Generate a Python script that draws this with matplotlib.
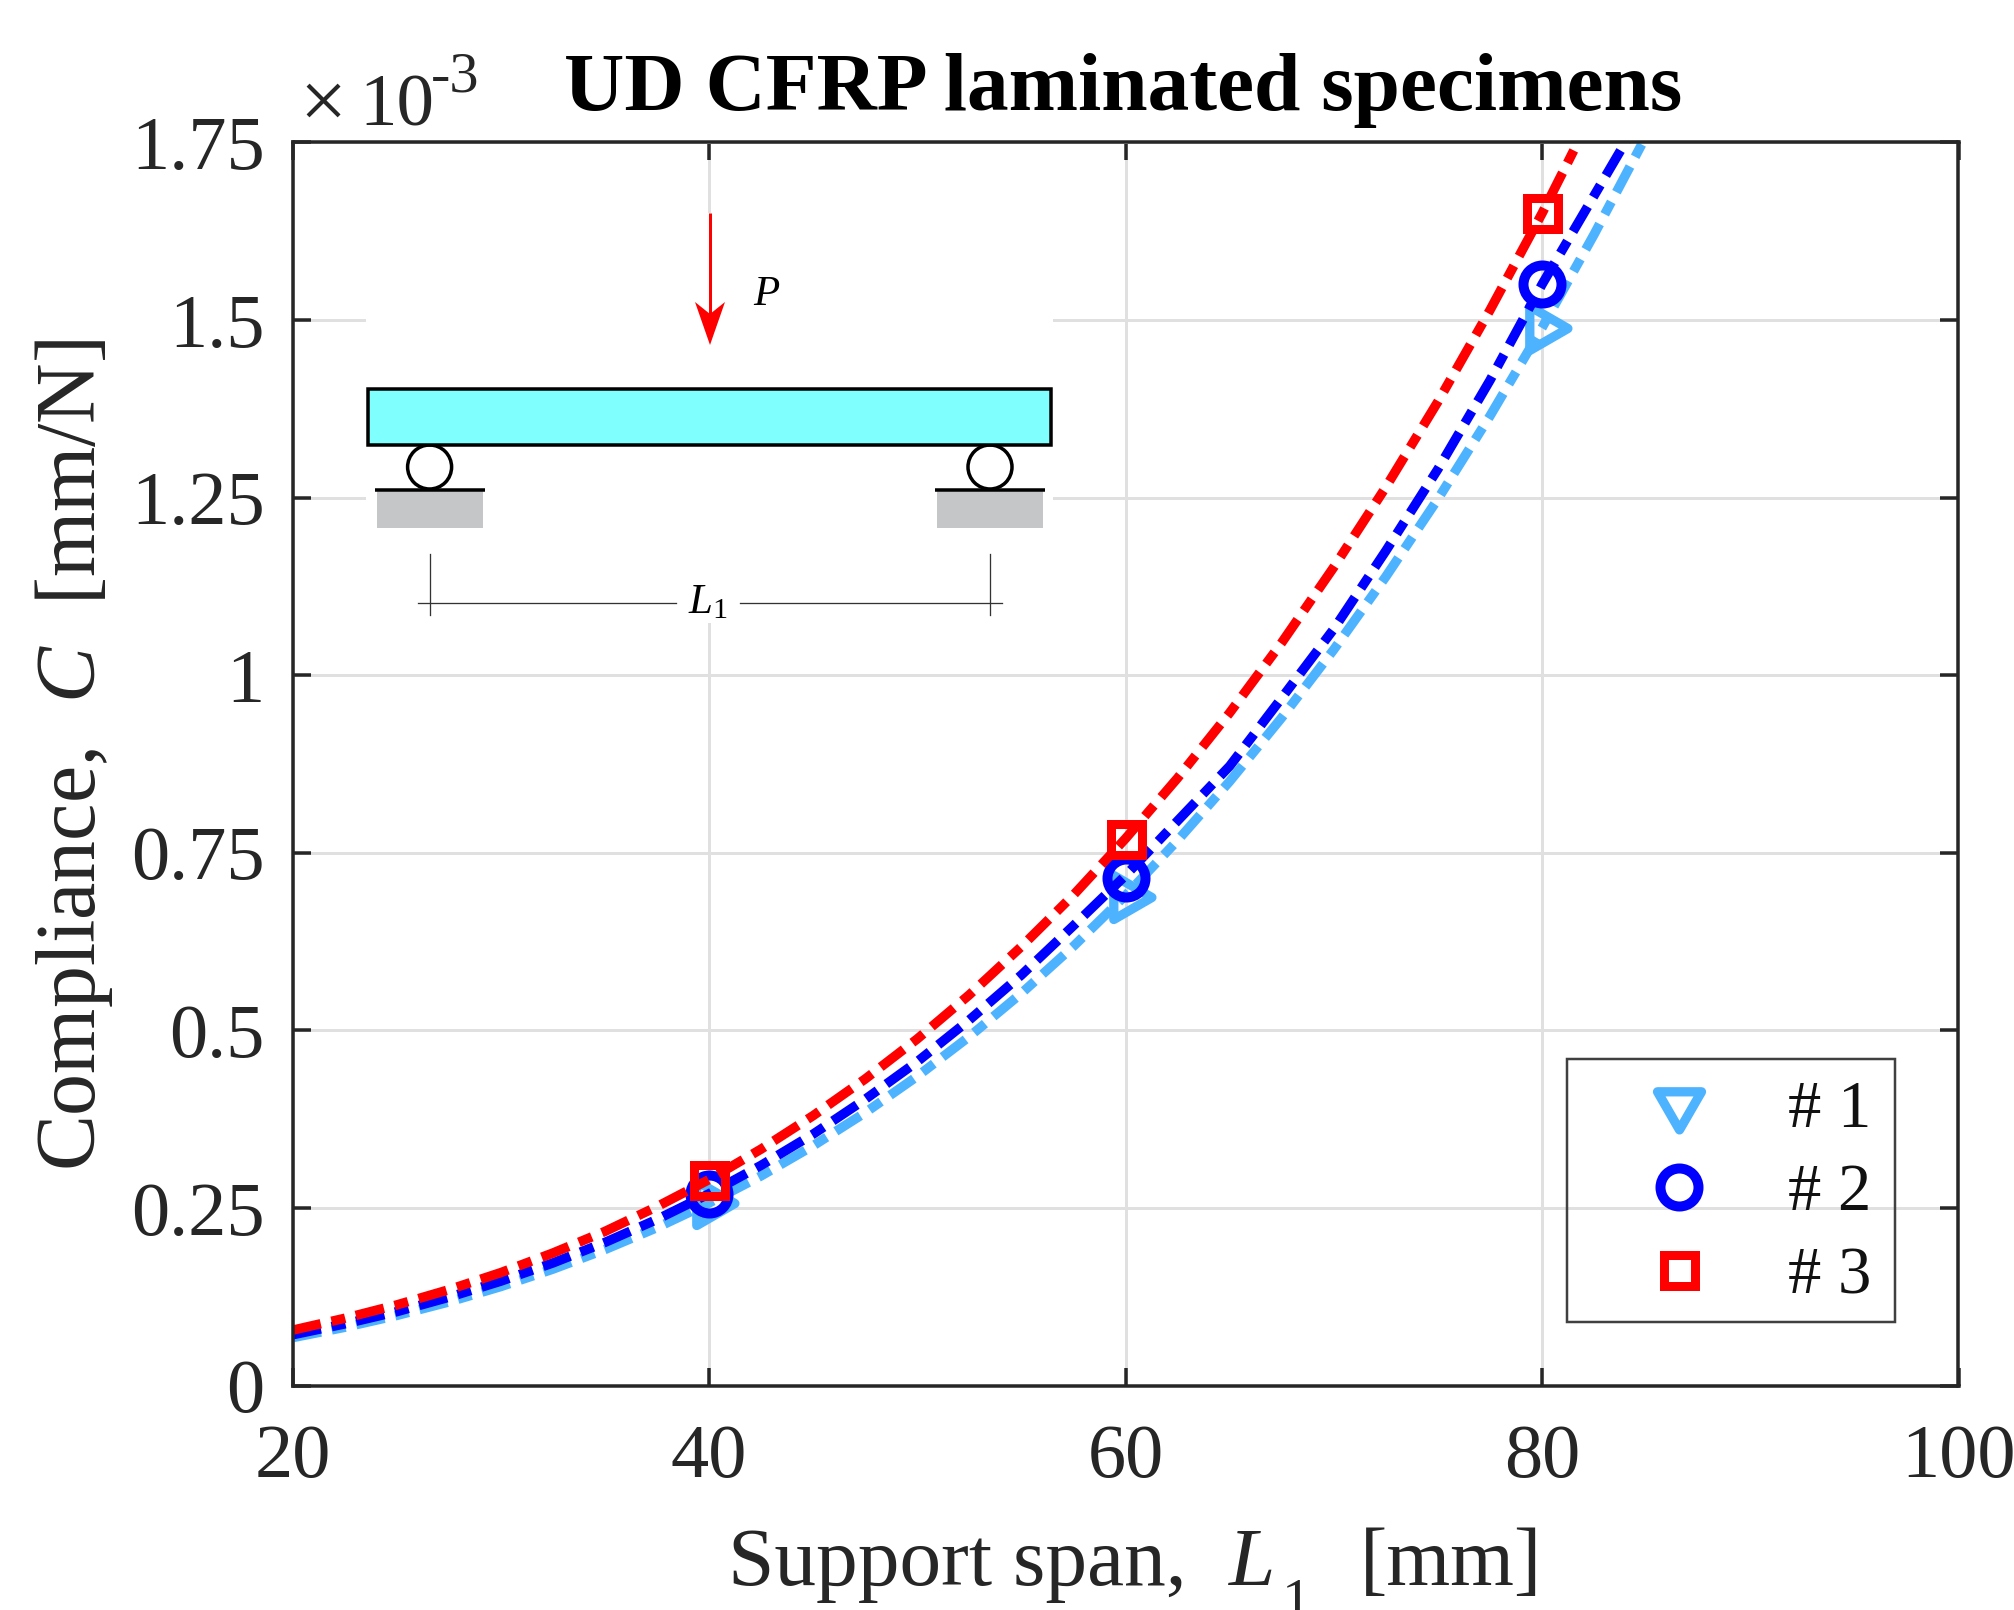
import matplotlib

matplotlib.use("Agg")
import matplotlib.pyplot as plt
import numpy as np
from matplotlib.lines import Line2D
from matplotlib.markers import MarkerStyle
from matplotlib.patches import Circle, Rectangle
from matplotlib.path import Path

plt.rcParams["font.family"] = ["Liberation Serif", "DejaVu Serif"]
plt.rcParams["mathtext.fontset"] = "custom"
plt.rcParams["mathtext.rm"] = "Liberation Serif"
plt.rcParams["mathtext.it"] = "Liberation Serif:italic"
plt.rcParams["lines.scale_dashes"] = False

span_curve = [20, 22.5, 25, 27.5, 30, 32.5, 35, 37.5, 40, 42.5, 45, 47.5, 50, 52.5, 55, 57.5,
              60, 62.5, 65, 67.5, 70, 72.5, 75, 77.5, 80, 82.5, 85]
curve_1 = [0.0675, 0.082, 0.0987, 0.1177, 0.1394, 0.1639, 0.1915, 0.2224, 0.257, 0.2952, 0.3376, 0.3842, 0.4354,
           0.4913, 0.5522, 0.6184, 0.690, 0.7674, 0.8505, 0.9402, 1.036, 1.1387, 1.248, 1.3648, 1.489, 1.6204, 1.759]
curve_2 = [0.0715, 0.0868, 0.104, 0.1243, 0.147, 0.1726, 0.2015, 0.2339, 0.27, 0.31, 0.354, 0.403, 0.456,
           0.5147, 0.578, 0.6474, 0.718, 0.795, 0.872, 0.968, 1.065, 1.175, 1.29, 1.415, 1.55, 1.675, 1.80]
curve_3 = [0.078, 0.0947, 0.1135, 0.1349, 0.159, 0.1866, 0.217, 0.2519, 0.29, 0.3329, 0.38, 0.4316, 0.488,
           0.5501, 0.618, 0.6906, 0.77, 0.8552, 0.947, 1.0458, 1.152, 1.2647, 1.385, 1.5138, 1.65, 1.7954, 1.949]

span_test = [40, 60, 80]
test_1 = [0.257, 0.688, 1.489]
test_2 = [0.27, 0.715, 1.55]
test_3 = [0.29, 0.77, 1.65]

x_ticks = [20, 40, 60, 80, 100]
y_ticks = [0, 0.25, 0.5, 0.75, 1, 1.25, 1.5, 1.75]
y_tick_labels = ["0", "0.25", "0.5", "0.75", "1", "1.25", "1.5", "1.75"]
labels = ["# 1", "# 2", "# 3"]

W, H = 2015, 1610
PX = 0.72  # points per pixel at dpi 100
DARK = "#262626"
LIGHT_BLUE = "#4DB3FF"
BLUE = "#0000FF"
RED = "#FF0000"
DASH = (0, (29 * PX, 11 * PX, 14 * PX, 11 * PX))


def triangle(angle):
    # triangle centred on its centroid, apex pointing down at angle 0
    verts = np.array([[0, -2], [np.sqrt(3), 1], [-np.sqrt(3), 1], [0, -2]], dtype=float)
    rad = np.deg2rad(angle)
    rot = np.array([[np.cos(rad), -np.sin(rad)], [np.sin(rad), np.cos(rad)]])
    verts = verts @ rot.T
    codes = [Path.MOVETO, Path.LINETO, Path.LINETO, Path.CLOSEPOLY]
    return MarkerStyle(Path(verts, codes), joinstyle="miter")


marker_kw = {
    "tri_plot": dict(marker=triangle(90), ms=50.8 * PX, mew=9.3 * PX),
    "tri_leg": dict(marker=triangle(0), ms=50.8 * PX, mew=9.3 * PX),
    "circle": dict(marker="o", ms=38 * PX, mew=10 * PX),
    "square": dict(marker="s", ms=31 * PX, mew=9 * PX),
}

fig = plt.figure(figsize=(W / 100, H / 100), dpi=100, facecolor="white")
left, right, top, bottom = 292.5, 1958.5, 142.4, 1385.6
ax = fig.add_axes([left / W, 1 - bottom / H, (right - left) / W, (bottom - top) / H])

series = [
    (curve_1, test_1, LIGHT_BLUE, "tri_plot"),
    (curve_2, test_2, BLUE, "circle"),
    (curve_3, test_3, RED, "square"),
]
for curve, test, color, key in series:
    ax.plot(span_curve, curve, color=color, lw=9.5 * PX, ls=DASH, dash_capstyle="butt", dash_joinstyle="round")
    ax.plot(span_test, test, ls="none", color=color, mfc="none", mec=color, **marker_kw[key])

ax.set_xlim(20, 100)
ax.set_ylim(0, 1.75)
ax.set_xticks(x_ticks)
ax.set_yticks(y_ticks)
ax.set_yticklabels(y_tick_labels)
ax.grid(True, color="#e0e0e0", lw=3 * PX)
ax.set_axisbelow(True)
ax.tick_params(direction="in", length=18 * PX, width=3.5 * PX, color=DARK, top=True, right=True,
               labelsize=55, labelcolor=DARK)
ax.tick_params(axis="x", pad=28)
ax.tick_params(axis="y", pad=20)
for spine in ax.spines.values():
    spine.set_linewidth(3.5 * PX)
    spine.set_color(DARK)

handles = [
    Line2D([], [], ls="none", color=LIGHT_BLUE, mfc="none", mec=LIGHT_BLUE, **marker_kw["tri_leg"]),
    Line2D([], [], ls="none", color=BLUE, mfc="none", mec=BLUE, **marker_kw["circle"]),
    Line2D([], [], ls="none", color=RED, mfc="none", mec=RED, **marker_kw["square"]),
]
leg = ax.legend(handles, labels, loc="lower right", borderaxespad=0, fontsize=48, frameon=False,
                bbox_to_anchor=((1895 - left) / (right - left), (bottom - 1331) / (bottom - top)),
                borderpad=0.36, handlelength=2.7, handletextpad=0.28, labelspacing=0.33, labelcolor="#111111")

# schematic and legend box, drawn in picture pixels
ov = fig.add_axes([0, 0, 1, 1], facecolor="none")
ov.set_xlim(0, W)
ov.set_ylim(H, 0)
ov.axis("off")
ov.add_patch(Rectangle((1567, 1059), 328, 263, fc="none", ec="#404040", lw=2.5 * PX))
ov.add_patch(Rectangle((366, 213), 687, 410, fc="white", ec="none"))
ov.plot([710, 710], [213, 325], color=RED, lw=3 * PX, solid_capstyle="butt")
ov.fill([710, 695, 710, 725], [345, 302, 314, 302], color=RED, lw=0)
for x_center in (429.6, 990):
    ov.add_patch(Rectangle((x_center - 53, 490), 106, 37.7, fc="#c5c6c8", ec="none"))
    ov.plot([x_center - 54.5, x_center + 55], [490, 490], color="black", lw=3.5 * PX, solid_capstyle="butt")
    ov.add_patch(Circle((x_center, 467), 22, fc="white", ec="black", lw=3.5 * PX))
    ov.plot([x_center, x_center], [554, 615], color="#333333", lw=1.3 * PX)
ov.add_patch(Rectangle((368, 389), 683, 56, fc="#80FFFF", ec="black", lw=3.5 * PX))
ov.plot([418, 676], [603, 603], color="#333333", lw=1.3 * PX)
ov.plot([740, 1002], [603, 603], color="#333333", lw=1.3 * PX)
ov.text(767, 305, "$P$", fontsize=31, color="black", ha="center", va="baseline")
ov.text(708, 613, "$L_1$", fontsize=31, color="black", ha="center", va="baseline")

ov.text(1123, 90, "UD CFRP laminated specimens", fontsize=60, fontweight="bold", color="black",
        ha="center", va="center")
ov.text(299, 128, "×", fontsize=60, color=DARK, ha="left", va="baseline")
ov.text(359, 126, "10", fontsize=54, color=DARK, ha="left", va="baseline")
ov.text(431, 92, "-3", fontsize=42, color=DARK, ha="left", va="baseline")
ov.text(74, 755, "Compliance,  $C$  [mm/N]", fontsize=60.4, color=DARK, rotation=90, ha="center", va="center")

ov.text(1187, 1585, "Support span,", fontsize=60, color=DARK, ha="right", va="baseline")
ov.text(1228, 1585, "$L$", fontsize=60, color=DARK, ha="left", va="baseline")
ov.text(1282, 1618, "1", fontsize=42, color=DARK, ha="left", va="baseline", clip_on=False)
ov.text(1360, 1585, "[mm]", fontsize=59, color=DARK, ha="left", va="baseline")

fig.savefig("out.png", dpi=100)
